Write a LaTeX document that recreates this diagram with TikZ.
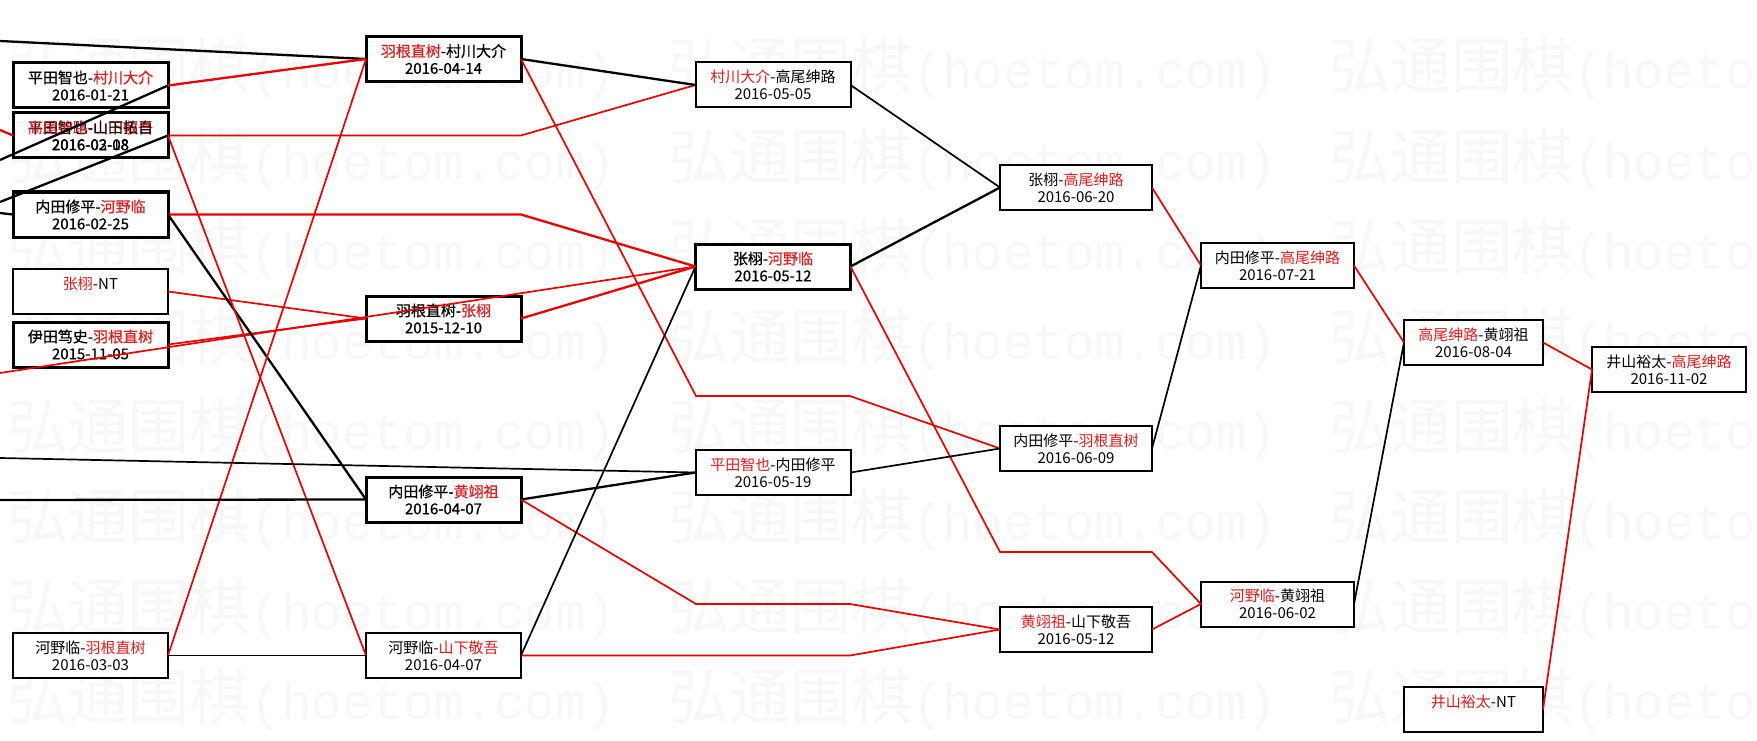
\documentclass[tikz,border=0pt]{standalone}
\usepackage{fontspec}
\setmainfont{Noto Sans CJK SC}
\newfontfamily\cjk{Noto Sans CJK SC}
\newfontfamily\cjkb[FakeBold=0.6]{Noto Sans CJK SC}
\newfontfamily\monor{Liberation Mono}
\definecolor{lred}{RGB}{228,28,28}
\definecolor{lnred}{RGB}{235,0,0}
\newcommand\lblN{\fontsize{15}{17}\selectfont\cjk\let\mf\cjk}
\newcommand\lblB{\fontsize{15}{17}\selectfont\cjkb\let\mf\cjkb}
\newcommand\hy{{\mf -}}
\newcommand\dt[1]{{\mf #1}}
\newcommand\Rn[1]{\textcolor{lred}{#1}}
\newcommand\ntx{{\mf NT}}
\tikzset{
 gbox/.style={draw=black, fill=white, line width=2pt, minimum height=45pt, inner sep=0pt, outer sep=0pt, align=center, font=\lblN},
 gthick/.style={gbox, line width=3pt, font=\lblB},
 gover/.style={inner sep=0pt, outer sep=0pt, align=center, font=\lblN},
 lk/.style={line width=1.7pt, black},
 lkT/.style={line width=2.3pt, black},
 lr/.style={line width=1.7pt, lnred},
 lrT/.style={line width=2.3pt, lnred},
 wm/.style={inner sep=0pt, outer sep=0pt, text=black!3, anchor=base west},
}
\begin{document}
\begin{tikzpicture}[x=1pt,y=-1pt]
\useasboundingbox (0,0) rectangle (1757,741);
\fill[white] (0,0) rectangle (1757,741);
% watermark
\begin{scope}
\clip (0,0) rectangle (1757,741);
\foreach \yy in {67,157,247,337,427,517,607,697}{
 \foreach \xx in {7,668,1329}{
  \node[wm] (wm-\xx-\yy) at (\xx,\yy+22) {{\fontsize{61}{61}\selectfont\cjk 弘通围棋}{\fontsize{50.7}{61}\selectfont\monor (hoetom.com)}};
 }}
\end{scope}
% column A
\node[gthick, minimum width=155pt] (A1) at (90.5,85.5) {平田智也\hy\Rn{村川大介}\\\dt{2016-01-21}};
\node[gthick, minimum width=155pt] (A2) at (90.5,135.5) {平田智也\hy\Rn{山下敬吾}\\\dt{2016-02-08}};
\node[gover] (A2b) at (A2.center) {\Rn{高尾绅路}\hy 山田拓自\\\dt{2016-03-18}};
\node[gthick, minimum width=155pt] (A3) at (90.5,214.5) {内田修平\hy\Rn{河野临}\\\dt{2016-02-25}};
\node[gbox, minimum width=155pt] (A4) at (90.5,291.5) {\Rn{张栩}\hy\ntx\\\phantom{\dt{0}}};
\node[gthick, minimum width=155pt] (A5) at (90.5,344.5) {伊田笃史\hy\Rn{羽根直树}\\\dt{2015-11-05}};
\node[gbox, minimum width=155pt] (A6) at (90.5,655.5) {河野临\hy\Rn{羽根直树}\\\dt{2016-03-03}};
% column B
\node[gthick, minimum width=155pt] (B1) at (443.5,59) {\Rn{羽根直树}\hy 村川大介\\\dt{2016-04-14}};
\node[gthick, minimum width=155pt] (B2) at (443.5,318.5) {羽根直树\hy\Rn{张栩}\\\dt{2015-12-10}};
\node[gthick, minimum width=155pt] (B3) at (443.5,499.5) {内田修平\hy\Rn{黄翊祖}\\\dt{2016-04-07}};
\node[gbox, minimum width=155pt] (B4) at (443.5,655.5) {河野临\hy\Rn{山下敬吾}\\\dt{2016-04-07}};
% column C
\node[gbox, minimum width=155pt] (C1) at (773,85) {\Rn{村川大介}\hy 高尾绅路\\\dt{2016-05-05}};
\node[gthick, minimum width=155pt] (C2) at (773,266.5) {张栩\hy\Rn{河野临}\\\dt{2016-05-12}};
\node[gbox, minimum width=155pt] (C3) at (773,472.5) {\Rn{平田智也}\hy 内田修平\\\dt{2016-05-19}};
% column D
\node[gbox, minimum width=152pt] (D1) at (1076,187.5) {张栩\hy\Rn{高尾绅路}\\\dt{2016-06-20}};
\node[gbox, minimum width=152pt] (D2) at (1076,448.5) {内田修平\hy\Rn{羽根直树}\\\dt{2016-06-09}};
\node[gbox, minimum width=152pt] (D3) at (1076,629.5) {\Rn{黄翊祖}\hy 山下敬吾\\\dt{2016-05-12}};
% column E
\node[gbox, minimum width=153pt] (E1) at (1277.5,265.5) {内田修平\hy\Rn{高尾绅路}\\\dt{2016-07-21}};
\node[gbox, minimum width=153pt] (E2) at (1277.5,604) {\Rn{河野临}\hy 黄翊祖\\\dt{2016-06-02}};
% column F
\node[gbox, minimum width=139pt] (F1) at (1473.5,342.5) {\Rn{高尾绅路}\hy 黄翊祖\\\dt{2016-08-04}};
\node[gbox, minimum width=139pt] (F2) at (1473.5,709.5) {\Rn{井山裕太}\hy\ntx\\\phantom{\dt{0}}};
% column G
\node[gbox, minimum width=154pt] (G1) at (1669,369.5) {井山裕太\hy\Rn{高尾绅路}\\\dt{2016-11-02}};
% free ends and bends
\coordinate (L1) at (0,41);
\coordinate (L2) at (0,160);
\coordinate (L3) at (0,202);
\coordinate (L4) at (0,130);
\coordinate (L5) at (0,213);
\coordinate (L6) at (0,373);
\coordinate (L7) at (0,458);
\coordinate (L8) at (0,500);
\coordinate (k1) at (696,396);
\coordinate (k2) at (850,396);
\coordinate (k3) at (696,604);
\coordinate (k4) at (850,604);
\coordinate (k5) at (850,655.5);
\coordinate (k6) at (1000,552);
\coordinate (k7) at (1152,552);
% connectors
\draw[lkT] (L1) -- (B1.west);
\draw[lkT] (L2) -- (A1.east);
\draw[lkT] (L3) -- (A2.east);
\draw[lrT] (L4) -- (A2.west);
\draw[lkT] (L5) -- (A3.west);
\draw[lrT] (A1.east) -- (B1.west);
\draw[lr] (A2.east) -- (A2.east -| B1.east) -- (C1.west);
\draw[lrT] (A3.east) -- (A3.east -| B1.east) -- (C2.west);
\draw[lr] (A4.east) -- (B2.west);
\draw[lr] (A5.east) -- (B2.west);
\draw[lr] (L6) -- (C2.west);
\draw[lkT] (A3.east) -- (B3.west);
\draw[lr] (A2.east) -- (B4.west);
\draw[lr] (A6.east) -- (B1.west);
\draw[lk] (L7) -- (C3.west);
\draw[lkT] (L8) -- (B3.west);
\draw[lk] (A6.east) -- (B4.west);
\draw[lkT] (B1.east) -- (C1.west);
\draw[lr] (B1.east) -- (k1) -- (k2) -- (D2.west);
\draw[lkT] (B3.east) -- (C3.west);
\draw[lr] (B3.east) -- (k3) -- (k4) -- (D3.west);
\draw[lr] (B4.east) -- (k5) -- (D3.west);
\draw[lk] (B4.east) -- (C2.west);
\draw[lrT] (B2.east) -- (C2.west);
\draw[lk] (C1.east) -- (D1.west);
\draw[lkT] (C2.east) -- (D1.west);
\draw[lr] (C2.east) -- (k6) -- (k7) -- (E2.west);
\draw[lk] (C3.east) -- (D2.west);
\draw[lr] (D1.east) -- (E1.west);
\draw[lk] (D2.east) -- (E1.west);
\draw[lr] (D3.east) -- (E2.west);
\draw[lr] (E1.east) -- (F1.west);
\draw[lk] (E2.east) -- (F1.west);
\draw[lr] (F1.east) -- (G1.west);
\draw[lr] (F2.east) -- (G1.west);
\end{tikzpicture}
\end{document}
